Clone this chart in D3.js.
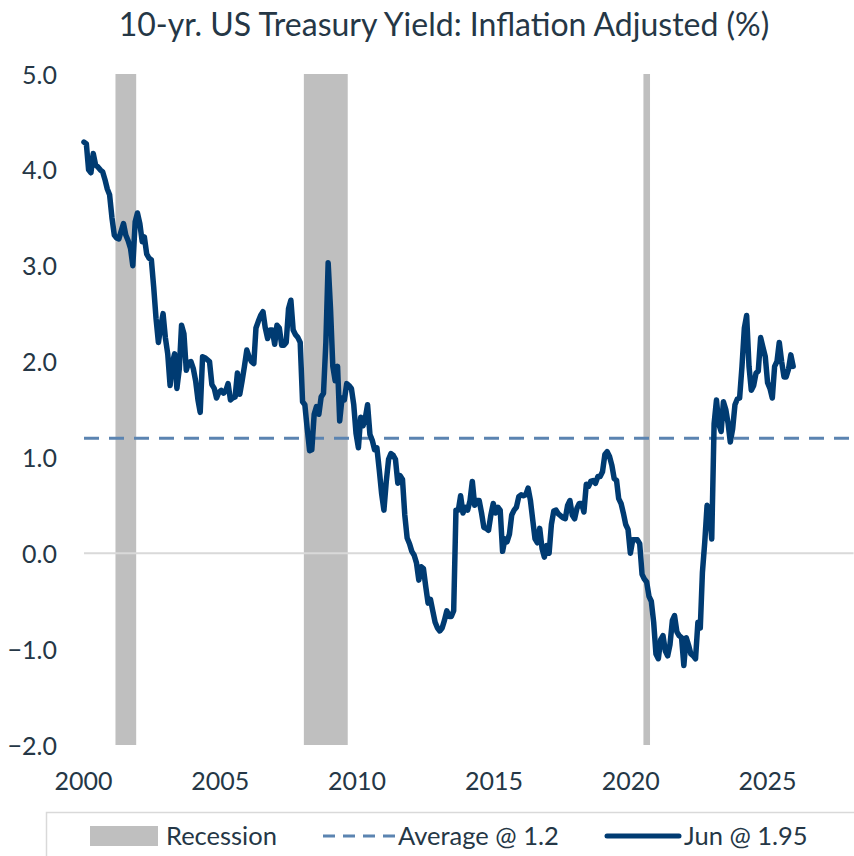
<!DOCTYPE html>
<html lang="en">
<head>
<meta charset="UTF-8">
<title>10-yr. US Treasury Yield: Inflation Adjusted</title>
<script src="https://d3js.org/d3.v7.min.js"></script>
<style>
    body { margin: 0; background: #fff; }
    svg { display: block; font-family: Lato, "Open Sans", sans-serif; }
    svg text { fill: #253746; font-family: Lato, "Open Sans", sans-serif; }
    .axis path.domain { display: none; }
    .axis line { display: none; }
</style>
</head>
<body>
<div id="viz"><svg width="854" height="856"></svg></div>
<script>
// monthly readings, Jan 2000 .. Jun 2025
var startMonth = "2000-01";
var yields = [
    // 2000
    4.29, 4.27, 4.00, 3.97, 4.17, 4.05, 4.03, 4.00, 3.98, 3.90, 3.80, 3.74,
    // 2001
    3.50, 3.32, 3.29, 3.28, 3.36, 3.44, 3.32, 3.26, 3.18, 3.00, 3.46, 3.55,
    // 2002
    3.44, 3.25, 3.30, 3.12, 3.08, 3.06, 2.78, 2.45, 2.20, 2.36, 2.50, 2.25,
    // 2003
    2.08, 1.75, 1.98, 2.08, 1.72, 1.92, 2.38, 2.29, 1.91, 1.99, 2.00, 1.93,
    // 2004
    1.80, 1.60, 1.47, 2.05, 2.04, 2.02, 2.00, 1.76, 1.72, 1.62, 1.68, 1.70,
    // 2005
    1.67, 1.70, 1.77, 1.60, 1.62, 1.63, 1.88, 1.66, 1.80, 1.95, 2.12, 2.05,
    // 2006
    2.00, 1.98, 2.35, 2.42, 2.48, 2.52, 2.35, 2.24, 2.33, 2.33, 2.18, 2.38,
    // 2007
    2.35, 2.17, 2.17, 2.20, 2.55, 2.64, 2.33, 2.28, 2.25, 2.20, 1.58, 1.55,
    // 2008
    1.30, 1.07, 1.08, 1.45, 1.53, 1.45, 1.63, 1.67, 2.20, 3.03, 2.55, 1.95,
    // 2009
    1.80, 1.95, 1.38, 1.62, 1.60, 1.77, 1.75, 1.72, 1.55, 1.25, 1.10, 1.42,
    // 2010
    1.33, 1.42, 1.55, 1.24, 1.18, 1.08, 1.10, 0.87, 0.62, 0.45, 0.75, 0.98,
    // 2011
    1.04, 1.02, 0.98, 0.73, 0.81, 0.77, 0.40, 0.16, 0.10, 0.02, -0.02, -0.10,
    // 2012
    -0.28, -0.14, -0.16, -0.35, -0.52, -0.48, -0.60, -0.72, -0.78, -0.81, -0.78, -0.70,
    // 2013
    -0.60, -0.66, -0.66, -0.60, 0.45, 0.45, 0.60, 0.42, 0.48, 0.45, 0.55, 0.75,
    // 2014
    0.50, 0.55, 0.55, 0.42, 0.27, 0.26, 0.24, 0.40, 0.52, 0.42, 0.48, 0.45,
    // 2015
    0.02, 0.15, 0.12, 0.20, 0.40, 0.45, 0.48, 0.59, 0.61, 0.60, 0.61, 0.68,
    // 2016
    0.55, 0.34, 0.15, 0.11, 0.26, 0.05, -0.04, 0.08, 0.00, 0.30, 0.44, 0.45,
    // 2017
    0.41, 0.39, 0.37, 0.36, 0.50, 0.55, 0.40, 0.36, 0.47, 0.52, 0.52, 0.43,
    // 2018
    0.72, 0.70, 0.75, 0.76, 0.73, 0.80, 0.80, 0.85, 1.03, 1.06, 1.01, 0.92,
    // 2019
    0.78, 0.76, 0.57, 0.52, 0.42, 0.30, 0.25, 0.00, 0.14, 0.14, 0.14, 0.10,
    // 2020
    -0.22, -0.27, -0.30, -0.45, -0.50, -0.72, -1.05, -1.10, -0.90, -0.86, -1.02, -1.07,
    // 2021
    -0.95, -0.70, -0.65, -0.82, -0.86, -0.88, -1.17, -0.88, -0.96, -1.05, -1.07, -1.10,
    // 2022
    -0.72, -0.78, -0.20, 0.12, 0.50, 0.45, 0.15, 1.35, 1.60, 1.35, 1.27, 1.58,
    // 2023
    1.50, 1.35, 1.16, 1.30, 1.55, 1.61, 1.62, 1.95, 2.35, 2.48, 1.95, 1.70,
    // 2024
    1.75, 1.88, 1.90, 2.25, 2.15, 2.05, 1.78, 1.72, 1.62, 1.95, 2.00, 2.20,
    // 2025
    2.00, 1.84, 1.84, 1.92, 2.07, 1.95
];
var average = 1.2;
var recessionStart = ["2001-03", "2007-12", "2020-02"];
var recessionEnd = ["2001-11", "2009-06", "2020-04"];
var yTicks = [-2, -1, 0, 1, 2, 3, 4, 5];
var yearLabels = ["2000", "2005", "2010", "2015", "2020", "2025"];
var legendLabels = ["Recession", "Average @ 1.2", "Jun @ 1.95"];

var parseMonth = d3.timeParse("%Y-%m");
var start = parseMonth(startMonth);
var data = yields.map(function (v, i) {
    return { date: d3.timeMonth.offset(start, i), value: v };
});

var svg = d3.select("svg");

var xScale = d3.scaleTime()
    .domain([start, parseMonth("2027-08")])
    .range([84, 853.6]);
var yScale = d3.scaleLinear().domain([-2, 5]).range([745, 74]);
// the category axis labels of the original are spaced on their own
var labelScale = d3.scalePoint().domain(yearLabels).range([83, 767]);

// title
svg.append("text")
    .attr("x", 444)
    .attr("y", 36)
    .attr("text-anchor", "middle")
    .style("font-size", "32px")
    .text("10-yr. US Treasury Yield: Inflation Adjusted (%)");

// recession bars
svg.selectAll("rect.recession")
    .data(recessionStart)
    .enter()
    .append("rect")
    .attr("class", "recession")
    .attr("x", function (d) { return xScale(parseMonth(d)) - 1; })
    .attr("y", yScale(5))
    .attr("width", function (d, i) { return xScale(parseMonth(recessionEnd[i])) - xScale(parseMonth(d)) + 2; })
    .attr("height", yScale(-2) - yScale(5))
    .style("fill", "#bfbfbf");

// zero line
svg.append("line")
    .attr("x1", xScale.range()[0])
    .attr("x2", xScale.range()[1])
    .attr("y1", yScale(0))
    .attr("y2", yScale(0))
    .attr("stroke", "#d9d9d9")
    .attr("stroke-width", 2);

// y axis labels
var yAxis = d3.axisLeft(yScale)
    .tickValues(yTicks)
    .tickFormat(d3.format(".1f"))
    .tickSize(0)
    .tickPadding(0);
svg.append("g")
    .attr("class", "axis")
    .attr("transform", "translate(57,0)")
    .call(yAxis)
    .attr("font-family", null)
    .selectAll("text")
    .attr("dy", "0.36em")
    .style("font-size", "25px");

// x axis labels
var xAxis = d3.axisBottom(labelScale).tickSize(0).tickPadding(0);
svg.append("g")
    .attr("class", "axis")
    .attr("transform", "translate(0,772)")
    .call(xAxis)
    .attr("font-family", null)
    .selectAll("text")
    .attr("dy", "0.72em")
    .style("font-size", "25px");

// average line
svg.append("line")
    .attr("x1", xScale.range()[0])
    .attr("x2", xScale.range()[1])
    .attr("y1", yScale(average))
    .attr("y2", yScale(average))
    .attr("stroke", "#5b84b1")
    .attr("stroke-width", 3)
    .attr("stroke-dasharray", "15,10");

// yield line
var yieldLine = d3.line()
    .x(function (d) { return xScale(d.date); })
    .y(function (d) { return yScale(d.value); });

svg.append("path")
    .attr("d", yieldLine(data))
    .attr("fill", "none")
    .attr("stroke", "#003b72")
    .attr("stroke-width", 5.5)
    .attr("stroke-linejoin", "round")
    .attr("stroke-linecap", "round");

// legend
var legend = svg.append("g");
legend.append("rect")
    .attr("x", 46.5)
    .attr("y", 812.5)
    .attr("width", 830)
    .attr("height", 80)
    .attr("fill", "none")
    .attr("stroke", "#d9d9d9")
    .attr("stroke-width", 1.5);

legend.append("rect")
    .attr("x", 90)
    .attr("y", 826)
    .attr("width", 68)
    .attr("height", 20)
    .style("fill", "#bfbfbf");
legend.append("line")
    .attr("x1", 323).attr("x2", 396)
    .attr("y1", 836).attr("y2", 836)
    .attr("stroke", "#5b84b1")
    .attr("stroke-width", 3)
    .attr("stroke-dasharray", "12,8");
legend.append("line")
    .attr("x1", 607).attr("x2", 679)
    .attr("y1", 836).attr("y2", 836)
    .attr("stroke", "#003b72")
    .attr("stroke-width", 5)
    .attr("stroke-linecap", "round");

legend.selectAll("text.legend")
    .data(legendLabels)
    .enter()
    .append("text")
    .attr("class", "legend")
    .attr("x", function (d, i) { return [166, 398, 684][i]; })
    .attr("y", 836)
    .attr("dy", "0.36em")
    .style("font-size", "25.5px")
    .text(function (d) { return d; });
</script>
</body>
</html>
